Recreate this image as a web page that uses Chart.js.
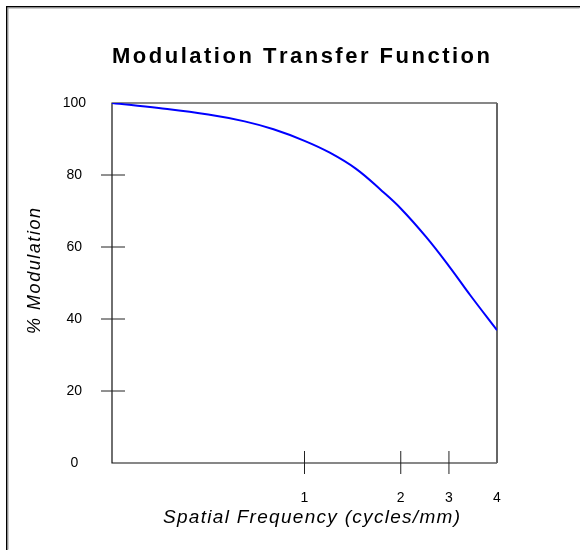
<!DOCTYPE html>
<html>
<head>
<meta charset="utf-8">
<script src="https://cdn.jsdelivr.net/npm/chart.js@4/dist/chart.umd.min.js"></script>
<style>
  html, body { margin: 0; padding: 0; background: #fff; }
  #wrap { width: 587px; height: 556px; }
</style>
</head>
<body>
<div id="wrap"><canvas id="mtf-chart" width="587" height="556"></canvas></div>
<script>
// datos
const frecuencias = [0.25, 0.35, 0.5, 0.65, 0.8, 1.0, 1.2, 1.45, 1.75, 2.0, 2.4, 2.83, 3.3, 4.0];
const modulacion = [100, 98.6, 96.8, 94.9, 92.7, 89.5, 86.2, 81.7, 75.5, 70.7, 62.8, 54.7, 46.6, 36.9];
const xTickValores = [1, 2, 2.83, 4];
const xTickEtiquetas = ['1', '2', '3', '4'];
const yTickValores = [0, 20, 40, 60, 80, 100];

const titulo = 'Modulation Transfer Function';
const tituloX = 'Spatial Frequency (cycles/mm)';
const tituloY = '% Modulation';

const fuente = '"Liberation Sans", Arial, sans-serif';

// texto con espaciado entre letras, ajustado a un ancho dado
function textoEspaciado(ctx, texto, x, y, ancho) {
    let base = 0;
    for (const c of texto) base += ctx.measureText(c).width;
    const esp = (ancho - base) / (texto.length - 1);
    let px = x;
    for (const c of texto) {
        ctx.fillText(c, px, y);
        px += ctx.measureText(c).width + esp;
    }
}

const decoracion = {
    id: 'decoracion',
    beforeDatasetsDraw(chart) {
        const { ctx, chartArea: a, scales } = chart;
        ctx.save();
        // marco exterior (solo arriba/izquierda visibles)
        ctx.fillStyle = '#000';
        ctx.fillRect(6, 6, 574, 1.5);
        ctx.fillRect(6, 6, 1.5, 544);
        ctx.fillStyle = '#999';
        ctx.fillRect(7.5, 7.5, 572, 1);
        ctx.fillRect(7.5, 7.5, 1, 542);

        // caja del grafico
        ctx.strokeStyle = '#111';
        ctx.lineWidth = 1.2;
        ctx.beginPath();
        ctx.moveTo(a.right, a.top);
        ctx.lineTo(a.left, a.top);
        ctx.lineTo(a.left, a.bottom);
        ctx.lineTo(a.right, a.bottom);
        ctx.stroke();
        ctx.strokeStyle = '#666';
        ctx.lineWidth = 2;
        ctx.beginPath();
        ctx.moveTo(a.right, a.top);
        ctx.lineTo(a.right, a.bottom);
        ctx.stroke();

        // marcas que cruzan los ejes
        ctx.strokeStyle = '#222';
        ctx.lineWidth = 1;
        yTickValores.slice(1, -1).forEach(v => {
            const y = scales.y.getPixelForValue(v);
            ctx.beginPath();
            ctx.moveTo(a.left - 11, y);
            ctx.lineTo(a.left + 13, y);
            ctx.stroke();
        });
        xTickValores.slice(0, -1).forEach(v => {
            const x = scales.x.getPixelForValue(v);
            ctx.beginPath();
            ctx.moveTo(x, a.bottom - 12);
            ctx.lineTo(x, a.bottom + 11);
            ctx.stroke();
        });
        ctx.restore();
    },
    afterDraw(chart) {
        const { ctx } = chart;
        ctx.save();
        ctx.fillStyle = '#000';
        ctx.textBaseline = 'alphabetic';
        ctx.textAlign = 'left';

        ctx.font = 'bold 22px ' + fuente;
        textoEspaciado(ctx, titulo, 112, 63, 378);

        ctx.font = 'italic 19px ' + fuente;
        textoEspaciado(ctx, tituloX, 163, 523, 297);

        ctx.translate(40, 334);
        ctx.rotate(-Math.PI / 2);
        ctx.font = 'italic 18px ' + fuente;
        textoEspaciado(ctx, tituloY, 0, 0, 126);
        ctx.restore();
    }
};

const ctx = document.getElementById('mtf-chart').getContext('2d');
new Chart(ctx, {
    type: 'line',
    data: {
        datasets: [{
            data: frecuencias.map((f, i) => ({ x: f, y: modulacion[i] })),
            borderColor: '#0000ff',
            borderWidth: 2,
            pointRadius: 0,
            fill: false,
            tension: 0.4
        }]
    },
    options: {
        responsive: false,
        animation: false,
        layout: { padding: { top: 103, right: 90, left: 0, bottom: 0 } },
        plugins: { legend: { display: false }, title: { display: false }, tooltip: { enabled: false } },
        scales: {
            x: {
                type: 'logarithmic',
                min: 0.25,
                max: 4,
                afterBuildTicks: s => { s.ticks = xTickValores.map(v => ({ value: v })); },
                afterFit: s => { s.height = 93; },
                grid: { display: false, drawTicks: false },
                border: { display: false },
                ticks: {
                    autoSkip: false,
                    maxRotation: 0,
                    padding: 27,
                    color: '#000',
                    font: { family: fuente, size: 14 },
                    callback: (v, i) => xTickEtiquetas[i]
                }
            },
            y: {
                min: 0,
                max: 100,
                afterBuildTicks: s => { s.ticks = yTickValores.map(v => ({ value: v })); },
                afterFit: s => { s.width = 112; },
                grid: { display: false, drawTicks: false },
                border: { display: false },
                ticks: {
                    crossAlign: 'center',
                    padding: 26,
                    color: '#000',
                    font: { family: fuente, size: 14 }
                }
            }
        }
    },
    plugins: [decoracion]
});
</script>
</body>
</html>
